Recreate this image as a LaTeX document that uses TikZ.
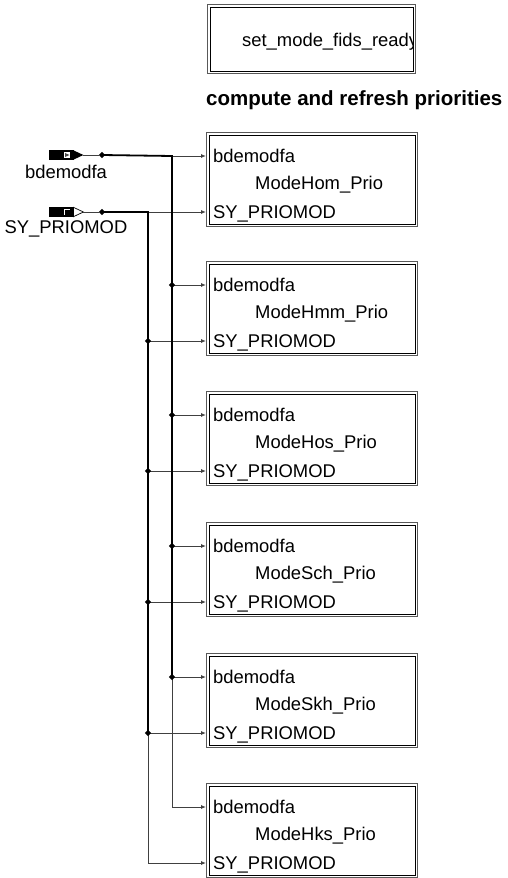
\documentclass[tikz,border=0pt]{standalone}
\usepackage{fontspec}
\setmainfont{Liberation Sans}
\usepackage{tikz}
\usetikzlibrary{arrows.meta, positioning, calc, shapes.geometric}

\tikzset{
    outerbox/.style={draw=gray!70!black, line width=1.4pt, minimum width=211pt, minimum height=94pt, inner sep=0pt, anchor=north west},
    innerbox/.style={draw=black, line width=0.8pt},
    wire/.style={draw=black!75, line width=0.9pt},
    bus/.style={draw=black, line width=1.8pt},
    junction/.style={diamond, fill=black, inner sep=0pt, minimum size=6.5pt},
    portlbl/.style={inner sep=0pt, anchor=west, text height=13pt, text depth=0pt},
    tip/.style={-{Latex[length=5pt,width=4pt]}},
    portbody/.style={fill=black, draw=black, minimum width=24pt, minimum height=9pt, inner sep=0pt, anchor=west},
    portsq/.style={fill=white, draw=black, line width=0.6pt, minimum size=7pt, inner sep=0pt}
}

\begin{document}
\begin{tikzpicture}[x=1pt, y=-1pt, font=\fontsize{18.4}{22}\selectfont]
    \useasboundingbox (0,0) rectangle (507,878);

    % top block
    \node[outerbox, minimum width=208pt, minimum height=69pt] (ready) at (207,4) {};
    \draw[innerbox] ($(ready.north west)+(3,3)$) rectangle ($(ready.south east)+(-3,-3)$);
    \begin{scope}
        \clip ($(ready.north west)+(3,3)$) rectangle ($(ready.south east)+(-3,-3)$);
        \node[portlbl] (readytxt) at (242,40) {set\_mode\_fids\_ready};
    \end{scope}
    \node[anchor=base west, inner sep=0pt, font=\bfseries\fontsize{20.5}{24}\selectfont] (head) at (206,105) {compute and refresh priorities};

    % inputs
    \node[portbody] (pbde) at (49,155) {};
    \node[portsq] (pbdesq) at (67,155) {};
    \fill[gray!60!black] ($(pbdesq)+(-2,-2)$) -- ($(pbdesq)+(2.5,0)$) -- ($(pbdesq)+(-2,2)$) -- cycle;
    \fill (pbde.north east) -- ($(pbde.east)+(10,0)$) coordinate (pbdetip) -- (pbde.south east) -- cycle;
    \node (lbde) at (66,172) {bdemodfa};

    \node[portbody] (psy) at (49,212) {};
    \node[portsq] (psysq) at (67,212) {};
    \fill ($(psysq)+(-2.5,-2.5)$) rectangle ($(psysq)+(2.5,2.5)$);
    \draw[fill=white, line width=0.7pt] (psy.north east) -- ($(psy.east)+(10,0)$) coordinate (psytip) -- (psy.south east) -- cycle;
    \node (lsy) at (66,229) {SY\_PRIOMOD};

    \node[junction] (jbde) at (102,155) {};
    \node[junction] (jsy) at (102,212) {};
    \draw[wire] (pbdetip) -- (jbde);
    \draw[wire] (psytip) -- (jsy);

    % priority blocks
    \foreach \k/\mode/\ytop in {1/Hom/132, 2/Hmm/261, 3/Hos/391, 4/Sch/522, 5/Skh/653, 6/Hks/783} {
        \node[outerbox] (blk\k) at (206,\ytop) {};
        \draw[innerbox] ($(blk\k.north west)+(3,3)$) rectangle ($(blk\k.south east)+(-3,-3)$);
        \node[portlbl] (blk\k-bde) at (213,{\ytop+24}) {bdemodfa};
        \node[portlbl] (blk\k-mode) at (255,{\ytop+51}) {Mode\mode\_Prio};
        \node[portlbl] (blk\k-sy) at (213,{\ytop+80}) {SY\_PRIOMOD};
        \coordinate (cbde\k) at (172,{\ytop+24});
        \coordinate (csy\k) at (148,{\ytop+80});
    }

    \foreach \k in {1,...,5} {
        \draw[wire, tip] (cbde\k) -- (cbde\k -| blk\k.west);
        \draw[wire, tip] (csy\k) -- (csy\k -| blk\k.west);
    }
    \draw[wire, tip] (cbde5) -- (cbde6) -- (cbde6 -| blk6.west);
    \draw[wire, tip] (csy5) -- (csy6) -- (csy6 -| blk6.west);

    \draw[bus] (jbde.center) -- (cbde1) -- (cbde5);
    \draw[bus] (jsy.center) -- (csy1) -- (csy5);
    \foreach \k in {2,...,5} {
        \node[junction] at (cbde\k) {};
        \node[junction] at (csy\k) {};
    }
\end{tikzpicture}
\end{document}
